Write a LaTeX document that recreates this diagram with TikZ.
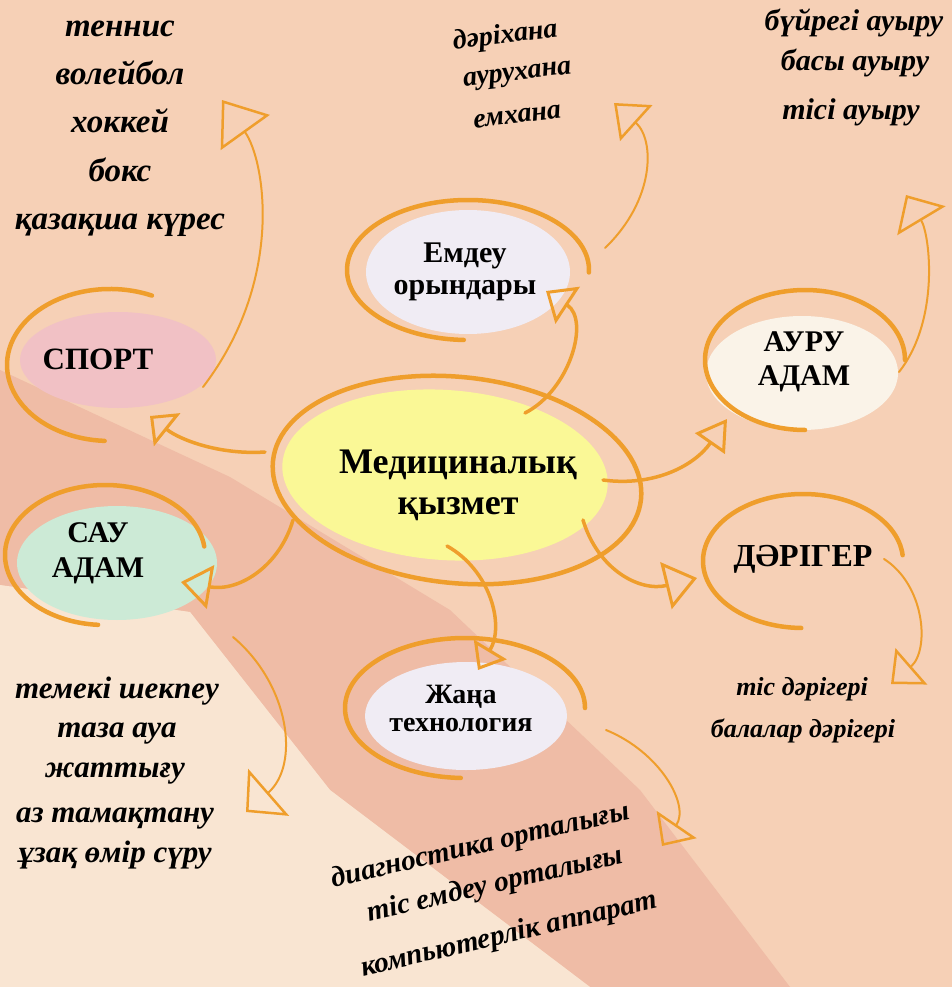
\documentclass[tikz,border=0pt]{standalone}
\usepackage{fontspec}
\setmainfont{Liberation Serif}
\usetikzlibrary{arrows.meta,shapes.geometric}
\definecolor{peach}{RGB}{246,208,182}
\definecolor{salmon}{RGB}{239,188,166}
\definecolor{creamb}{RGB}{249,229,210}
\definecolor{orng}{RGB}{239,158,44}
\definecolor{yel}{RGB}{250,248,150}
\definecolor{pinkf}{RGB}{241,193,197}
\definecolor{mint}{RGB}{204,234,214}
\definecolor{lav}{RGB}{240,236,244}
\definecolor{crm}{RGB}{250,243,232}
\newcommand{\myfs}[2]{\fontsize{#1}{#2}\selectfont}
\begin{document}
\begin{tikzpicture}[x=1pt,y=-1pt,
  blob/.style={ellipse, inner sep=0pt, draw=none},
  lbl/.style={align=center, inner sep=0pt, text=black},
  hand/.style={font=\bfseries\itshape\myfs{#1}{#1}, inner sep=0pt, anchor=base, text=black},
  ring/.style={draw=orng, line width=4.5pt, line cap=round},
  thick link/.style 2 args={draw=orng, line width=3.5pt, line cap=round,
    -{Triangle[open, length=#1pt, width=#2pt, line width=3pt]}},
  thin link/.style 2 args={draw=orng, line width=2pt, line cap=round,
    -{Triangle[open, length=#1pt, width=#2pt, line width=2.5pt]}}
]
\useasboundingbox (0,0) rectangle (952,987);
% background
\fill[peach] (0,0) rectangle (952,987);
\fill[salmon] (0,370) -- (230,477) -- (450,610) -- (640,790) -- (790,987) -- (590,987) -- (330,790) -- (190,612) -- (0,585) -- cycle;
\fill[creamb] (0,585) -- (190,612) -- (330,790) -- (590,987) -- (0,987) -- cycle;

% filled ellipses
\node[blob, fill=yel, minimum width=326pt, minimum height=170pt, rotate=-4] (medfill) at (445,475) {};
\node[blob, fill=pinkf, minimum width=196pt, minimum height=96pt] (sportfill) at (118,360) {};
\node[blob, fill=lav, minimum width=204pt, minimum height=124pt] (emdfill) at (468,272) {};
\node[blob, fill=crm, minimum width=192pt, minimum height=114pt] (aurufill) at (802,373) {};
\node[blob, fill=mint, minimum width=200pt, minimum height=114pt] (saufill) at (117,563) {};
\node[blob, fill=lav, minimum width=202pt, minimum height=108pt] (janafill) at (466,716) {};

% orange rings
\draw[ring, rotate around={-6:(457,480)}] (457,480) ellipse [x radius=185, y radius=103];
\draw[ring] (110,365) ++(-66:103 and 76) arc[start angle=-66, end angle=-267, x radius=103, y radius=76];
\draw[ring] (468,270) ++(2:121 and 70) arc[start angle=2, end angle=-268, x radius=121, y radius=70];
\draw[ring] (805,360) ++(0:100 and 70) arc[start angle=0, end angle=-270, x radius=100, y radius=70];
\draw[ring] (105,555) ++(-7:100 and 70) arc[start angle=-7, end angle=-266, x radius=100, y radius=70];
\draw[ring] (803,561) ++(-5:100 and 67) arc[start angle=-5, end angle=-269, x radius=100, y radius=67];
\draw[ring] (465,708) ++(0:120 and 70) arc[start angle=0, end angle=-268, x radius=120, y radius=70];

% labels
\node[lbl, font=\bfseries\myfs{36}{41}] (med) at (458,485) {Медициналық\\қызмет};
\node[lbl, font=\bfseries\myfs{31}{31}, anchor=base] (sport) at (98,369) {СПОРТ};
\node[lbl, font=\bfseries\myfs{30}{32}] (emd) at (465,272) {Емдеу\\орындары};
\node[lbl, font=\bfseries\myfs{30}{34}] (auru) at (804,362) {АУРУ\\АДАМ};
\node[lbl, font=\bfseries\myfs{30}{35}] (sau) at (98,553) {САУ\\АДАМ};
\node[lbl, font=\bfseries\myfs{32}{32}, anchor=base] (dar) at (803,566) {ДӘРІГЕР};
\node[lbl, font=\bfseries\myfs{28}{28}] (jana) at (461,708) {Жаңа\\технология};

% lists
\node[hand=33] (s1) at (120,37) {теннис};
\node[hand=33] (s2) at (120,85) {волейбол};
\node[hand=33] (s3) at (120,133) {хоккей};
\node[hand=33] (s4) at (120,182) {бокс};
\node[hand=33] (s5) at (120,229) {қазақша күрес};

\node[hand=28, rotate=7] (e1) at (506,43) {дәріхана};
\node[hand=28, rotate=7] (e2) at (518,80) {аурухана};
\node[hand=28, rotate=7] (e3) at (518,123) {емхана};

\node[hand=30] (a1) at (854,31) {бүйрегі ауыру};
\node[hand=30] (a2) at (855,71) {басы ауыру};
\node[hand=30] (a3) at (851,120) {тісі ауыру};

\node[hand=31] (h1) at (117,698) {темекі шекпеу};
\node[hand=31] (h2) at (117,737) {таза ауа};
\node[hand=31] (h3) at (115,777) {жаттығу};
\node[hand=31] (h4) at (115,822) {аз тамақтану};
\node[hand=31] (h5) at (115,862) {ұзақ өмір сүру};

\node[hand=26] (d1) at (802,695) {тіс дәрігері};
\node[hand=26] (d2) at (803,737) {балалар дәрігері};

\node[hand=29, rotate=13] (t1) at (482,853) {диагностика орталығы};
\node[hand=29, rotate=13] (t2) at (497,892) {тіс емдеу орталығы};
\node[hand=29, rotate=13] (t3) at (511,942) {компьютерлік аппарат};

% connector end points
\coordinate (medW) at (265,452);   \coordinate (sportIn) at (150,416);
\coordinate (sportOut) at (203,387); \coordinate (sportList) at (222,100);
\coordinate (medNE) at (525,413);  \coordinate (emdIn) at (546,291);
\coordinate (emdOut) at (605,248); \coordinate (emdList) at (614,103);
\coordinate (medE) at (603,480);   \coordinate (auruIn) at (727,419);
\coordinate (auruOut) at (899,372); \coordinate (auruList) at (906,195);
\coordinate (medSW) at (293,520);  \coordinate (sauIn) at (181,582);
\coordinate (sauOut) at (233,637); \coordinate (sauList) at (246,812);
\coordinate (medSE) at (583,520);  \coordinate (darIn) at (697,578);
\coordinate (darOut) at (884,559); \coordinate (darList) at (891,684);
\coordinate (medS) at (447,546);   \coordinate (janaIn) at (478,670);
\coordinate (janaOut) at (606,730); \coordinate (janaList) at (662,846);

% connectors
\draw[thick link={22}{42}] (medW) .. controls (220,455) and (180,440) .. (sportIn);
\draw[thin link={40}{60}] (sportOut) .. controls (285,280) and (265,160) .. (sportList);
\draw[thick link={26}{44}] (medNE) .. controls (570,390) and (590,320) .. (emdIn);
\draw[thin link={30}{48}] (emdOut) .. controls (655,200) and (655,140) .. (emdList);
\draw[thick link={30}{36}] (medE) .. controls (655,487) and (695,465) .. (auruIn);
\draw[thin link={30}{56}] (auruOut) .. controls (940,320) and (930,235) .. (auruList);
\draw[thick link={30}{44}] (medSW) .. controls (280,565) and (240,592) .. (sauIn);
\draw[thin link={30}{62}] (sauOut) .. controls (290,685) and (300,765) .. (sauList);
\draw[thick link={32}{48}] (medSE) .. controls (598,570) and (640,592) .. (darIn);
\draw[thin link={27}{48}] (darOut) .. controls (925,585) and (930,650) .. (darList);
\draw[thick link={24}{38}] (medS) .. controls (490,570) and (505,625) .. (janaIn);
\draw[thin link={26}{48}] (janaOut) .. controls (660,752) and (690,805) .. (janaList);
\end{tikzpicture}
\end{document}
